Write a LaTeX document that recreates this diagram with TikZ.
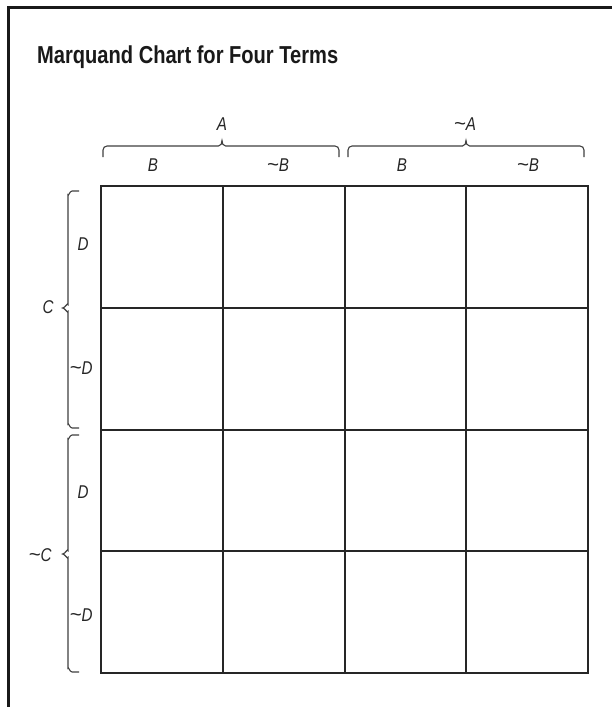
\documentclass[tikz,border=0pt]{standalone}
\usepackage{graphicx}
\usepackage{fontspec}
\newfontfamily\condfont{Liberation Sans}[FakeStretch=0.82]
\newcommand{\tld}{\scalebox{1.35}[1.1]{\textasciitilde}}
\begin{document}
\begin{tikzpicture}[x=1pt,y=-1pt,
  frameline/.style={line width=3pt, draw=black!90},
  outergrid/.style={line width=2.6pt, draw=black!85},
  innergrid/.style={line width=1.8pt, draw=black!85},
  bracepath/.style={line width=1.1pt, draw=black!75},
  lab/.style={font=\condfont\itshape\fontsize{18.5}{20}\selectfont, text=black!85, inner sep=0pt},
  titlestyle/.style={font=\condfont\bfseries\fontsize{24.5}{27}\selectfont, text=black!90, inner sep=0pt, anchor=base west}]
\useasboundingbox (0,0) rectangle (611,707);
\fill[white] (0,0) rectangle (611,707);
% frame (cropped)
\draw[frameline] (8,720) -- (8,7.5) -- (625,7.5);
% title
\node[titlestyle] (title) at (37,63) {Marquand Chart for Four Terms};
% grid
\foreach \x in {223,345,466} \draw[innergrid] (\x,186) -- (\x,673);
\foreach \y in {308,430,551} \draw[innergrid] (101,\y) -- (588,\y);
\draw[outergrid] (101,186) rectangle (588,673);
% top braces
\foreach \a/\b/\m in {103/339/222, 348/584/466}{
  \draw[bracepath] (\a,157) -- (\a,150) to[out=90,in=180] (\a+4,146) -- (\m-3.5,146)
     to[out=0,in=-90] (\m,140.5) to[out=-90,in=180] (\m+3.5,146) -- (\b-4,146)
     to[out=0,in=90] (\b,150) -- (\b,157);
}
% left braces
\foreach \t/\bt/\m in {191/428/308, 435/672/554}{
  \draw[bracepath] (79,\t) -- (72,\t) to[out=180,in=-90] (68,\t+4) -- (68,\m-3.5)
     to[out=90,in=0] (62.5,\m) to[out=0,in=-90] (68,\m+3.5) -- (68,\bt-4)
     to[out=90,in=180] (72,\bt) -- (79,\bt);
}
% labels
\node[lab] (lA) at (222,124) {A};
\node[lab] (lnA) at (465,124) {\tld A};
\node[lab] (lB1) at (153,165) {B};
\node[lab] (lnB1) at (278,165) {\tld B};
\node[lab] (lB2) at (402,165) {B};
\node[lab] (lnB2) at (528,165) {\tld B};
\node[lab] (lC) at (48,307) {C};
\node[lab] (lnC) at (40,555) {\tld C};
\node[lab] (lD1) at (83,244) {D};
\node[lab] (lnD1) at (81,368) {\tld D};
\node[lab] (lD2) at (83,492) {D};
\node[lab] (lnD2) at (81,615) {\tld D};
\end{tikzpicture}
\end{document}
